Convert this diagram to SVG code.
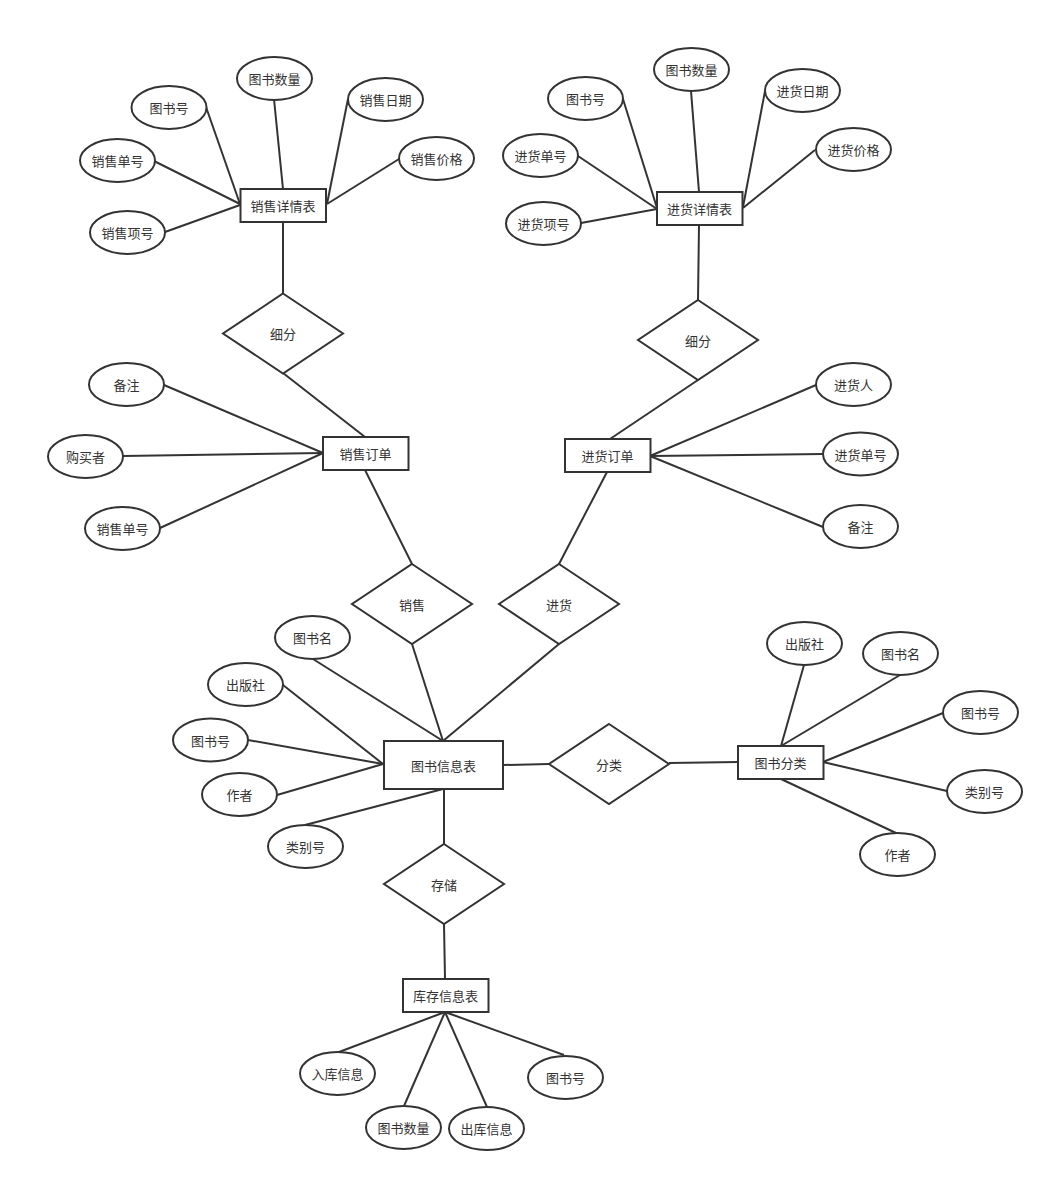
<svg xmlns="http://www.w3.org/2000/svg" width="1053" height="1182" viewBox="0 0 1053 1182">
<style>
.e{fill:#fff;stroke:#333;stroke-width:2}
.r{fill:#fff;stroke:#333;stroke-width:2}
.d{fill:#fff;stroke:#333;stroke-width:2}
.l{stroke:#333;stroke-width:2;fill:none}
text{font-family:"Noto Sans CJK SC","Noto Sans",sans-serif;font-size:13px;fill:#333;text-anchor:middle;dominant-baseline:central}
</style>
<rect width="1053" height="1182" fill="#fff"/>
<g id="connectors">
<line class="l" x1="206" y1="107" x2="240" y2="204"/>
<line class="l" x1="274" y1="99" x2="283" y2="189"/>
<line class="l" x1="348" y1="99" x2="327" y2="204"/>
<line class="l" x1="399" y1="159" x2="327" y2="204"/>
<line class="l" x1="154" y1="161" x2="240" y2="204"/>
<line class="l" x1="165" y1="232" x2="240" y2="205"/>
<line class="l" x1="283" y1="222" x2="283" y2="293"/>
<line class="l" x1="283" y1="373" x2="365" y2="437"/>
<line class="l" x1="164" y1="385" x2="323" y2="453"/>
<line class="l" x1="123" y1="456" x2="323" y2="453"/>
<line class="l" x1="160" y1="528" x2="323" y2="453"/>
<line class="l" x1="365" y1="470" x2="412" y2="564"/>
<line class="l" x1="623" y1="99" x2="657" y2="208"/>
<line class="l" x1="691" y1="91" x2="699" y2="192"/>
<line class="l" x1="765" y1="91" x2="743" y2="207"/>
<line class="l" x1="815" y1="150" x2="743" y2="208"/>
<line class="l" x1="578" y1="156" x2="657" y2="209"/>
<line class="l" x1="581" y1="223" x2="657" y2="209"/>
<line class="l" x1="699" y1="225" x2="698" y2="300"/>
<line class="l" x1="698" y1="380" x2="610" y2="439"/>
<line class="l" x1="816" y1="385" x2="650" y2="456"/>
<line class="l" x1="823" y1="454" x2="650" y2="456"/>
<line class="l" x1="823" y1="527" x2="650" y2="456"/>
<line class="l" x1="607" y1="472" x2="559" y2="564"/>
<line class="l" x1="412" y1="644" x2="443" y2="741"/>
<line class="l" x1="559" y1="644" x2="443" y2="741"/>
<line class="l" x1="313" y1="659" x2="443" y2="741"/>
<line class="l" x1="283" y1="685" x2="383" y2="764"/>
<line class="l" x1="248" y1="740" x2="383" y2="764"/>
<line class="l" x1="277" y1="795" x2="383" y2="764"/>
<line class="l" x1="305" y1="825" x2="443" y2="789"/>
<line class="l" x1="503" y1="765" x2="549" y2="764"/>
<line class="l" x1="444" y1="789" x2="444" y2="844"/>
<line class="l" x1="669" y1="763" x2="738" y2="762"/>
<line class="l" x1="804" y1="665" x2="781" y2="746"/>
<line class="l" x1="900" y1="675" x2="781" y2="746"/>
<line class="l" x1="943" y1="713" x2="823" y2="762"/>
<line class="l" x1="947" y1="791" x2="823" y2="762"/>
<line class="l" x1="896" y1="833" x2="781" y2="779"/>
<line class="l" x1="444" y1="924" x2="445" y2="979"/>
<line class="l" x1="445" y1="1012" x2="339" y2="1052"/>
<line class="l" x1="445" y1="1012" x2="404" y2="1106"/>
<line class="l" x1="445" y1="1012" x2="487" y2="1107"/>
<line class="l" x1="445" y1="1012" x2="564" y2="1055"/>
</g>
<g id="sales-detail"><rect class="r" x="240.500" y="189" width="85.500" height="33"/><text x="283" y="205.500">销售详情表</text></g>
<g id="sd-bookno"><ellipse class="e" cx="169" cy="107.500" rx="37.500" ry="21.500"/><text x="169" y="107.500">图书号</text></g>
<g id="sd-qty"><ellipse class="e" cx="274.500" cy="78.500" rx="37.500" ry="21.500"/><text x="274.500" y="78.500">图书数量</text></g>
<g id="sd-date"><ellipse class="e" cx="385.500" cy="99.500" rx="37.500" ry="21.500"/><text x="385.500" y="99.500">销售日期</text></g>
<g id="sd-orderno"><ellipse class="e" cx="117.500" cy="160.500" rx="37.500" ry="21.500"/><text x="117.500" y="160.500">销售单号</text></g>
<g id="sd-price"><ellipse class="e" cx="436.500" cy="158.500" rx="37.500" ry="21.500"/><text x="436.500" y="158.500">销售价格</text></g>
<g id="sd-itemno"><ellipse class="e" cx="127.500" cy="232.500" rx="37.500" ry="21.500"/><text x="127.500" y="232.500">销售项号</text></g>
<g id="rel-detail-left"><polygon class="d" points="283,293.500 343,333.500 283,373.500 223,333.500"/><text x="283" y="333.500">细分</text></g>
<g id="sales-order"><rect class="r" x="323" y="437" width="85.500" height="33"/><text x="365.500" y="453.500">销售订单</text></g>
<g id="so-note"><ellipse class="e" cx="126.500" cy="384.500" rx="37.500" ry="21.500"/><text x="126.500" y="384.500">备注</text></g>
<g id="so-buyer"><ellipse class="e" cx="85.500" cy="456.500" rx="37.500" ry="21.500"/><text x="85.500" y="456.500">购买者</text></g>
<g id="so-orderno"><ellipse class="e" cx="122.500" cy="528.500" rx="37.500" ry="21.500"/><text x="122.500" y="528.500">销售单号</text></g>
<g id="purchase-detail"><rect class="r" x="657" y="192" width="85.500" height="33"/><text x="699.500" y="208.500">进货详情表</text></g>
<g id="pd-bookno"><ellipse class="e" cx="585.500" cy="98.500" rx="37.500" ry="21.500"/><text x="585.500" y="98.500">图书号</text></g>
<g id="pd-qty"><ellipse class="e" cx="691.500" cy="69.500" rx="37.500" ry="21.500"/><text x="691.500" y="69.500">图书数量</text></g>
<g id="pd-date"><ellipse class="e" cx="802.500" cy="90.500" rx="37.500" ry="21.500"/><text x="802.500" y="90.500">进货日期</text></g>
<g id="pd-orderno"><ellipse class="e" cx="540.500" cy="155.500" rx="37.500" ry="21.500"/><text x="540.500" y="155.500">进货单号</text></g>
<g id="pd-price"><ellipse class="e" cx="853.500" cy="149.500" rx="37.500" ry="21.500"/><text x="853.500" y="149.500">进货价格</text></g>
<g id="pd-itemno"><ellipse class="e" cx="543.500" cy="223.500" rx="37.500" ry="21.500"/><text x="543.500" y="223.500">进货项号</text></g>
<g id="rel-detail-right"><polygon class="d" points="698,300 758,340 698,380 638,340"/><text x="698" y="340">细分</text></g>
<g id="purchase-order"><rect class="r" x="565" y="439" width="85.500" height="33"/><text x="607.500" y="455.500">进货订单</text></g>
<g id="po-person"><ellipse class="e" cx="853.500" cy="384.500" rx="37.500" ry="21.500"/><text x="853.500" y="384.500">进货人</text></g>
<g id="po-orderno"><ellipse class="e" cx="860.500" cy="454" rx="37.500" ry="21.500"/><text x="860.500" y="454">进货单号</text></g>
<g id="po-note"><ellipse class="e" cx="860.500" cy="526.500" rx="37.500" ry="21.500"/><text x="860.500" y="526.500">备注</text></g>
<g id="rel-sale"><polygon class="d" points="412,564 472,604 412,644 352,604"/><text x="412" y="604">销售</text></g>
<g id="rel-purchase"><polygon class="d" points="559,564 619,604 559,644 499,604"/><text x="559" y="604">进货</text></g>
<g id="book-info"><rect class="r" x="384" y="741" width="119" height="48"/><text x="443.500" y="765">图书信息表</text></g>
<g id="bi-name"><ellipse class="e" cx="312.500" cy="637.500" rx="37.500" ry="21.500"/><text x="312.500" y="637.500">图书名</text></g>
<g id="bi-publisher"><ellipse class="e" cx="245.500" cy="684.500" rx="37.500" ry="21.500"/><text x="245.500" y="684.500">出版社</text></g>
<g id="bi-bookno"><ellipse class="e" cx="210.500" cy="740" rx="37.500" ry="21.500"/><text x="210.500" y="740">图书号</text></g>
<g id="bi-author"><ellipse class="e" cx="239.500" cy="794.500" rx="37.500" ry="21.500"/><text x="239.500" y="794.500">作者</text></g>
<g id="bi-catno"><ellipse class="e" cx="305.500" cy="846.500" rx="37.500" ry="21.500"/><text x="305.500" y="846.500">类别号</text></g>
<g id="rel-classify"><polygon class="d" points="609,724 669,764 609,804 549,764"/><text x="609" y="764">分类</text></g>
<g id="book-category"><rect class="r" x="738" y="746" width="85.500" height="33"/><text x="780.500" y="762.500">图书分类</text></g>
<g id="bc-publisher"><ellipse class="e" cx="804.500" cy="643.500" rx="37.500" ry="21.500"/><text x="804.500" y="643.500">出版社</text></g>
<g id="bc-name"><ellipse class="e" cx="900.500" cy="653.500" rx="37.500" ry="21.500"/><text x="900.500" y="653.500">图书名</text></g>
<g id="bc-bookno"><ellipse class="e" cx="980.500" cy="712.500" rx="37.500" ry="21.500"/><text x="980.500" y="712.500">图书号</text></g>
<g id="bc-catno"><ellipse class="e" cx="984.500" cy="791.500" rx="37.500" ry="21.500"/><text x="984.500" y="791.500">类别号</text></g>
<g id="bc-author"><ellipse class="e" cx="897.500" cy="854.500" rx="37.500" ry="21.500"/><text x="897.500" y="854.500">作者</text></g>
<g id="rel-store"><polygon class="d" points="444,844 504,884 444,924 384,884"/><text x="444" y="884">存储</text></g>
<g id="stock-info"><rect class="r" x="403" y="979" width="85.500" height="33"/><text x="445.500" y="995.500">库存信息表</text></g>
<g id="si-in"><ellipse class="e" cx="337.500" cy="1073.500" rx="37.500" ry="21.500"/><text x="337.500" y="1073.500">入库信息</text></g>
<g id="si-qty"><ellipse class="e" cx="403.500" cy="1127.500" rx="37.500" ry="21.500"/><text x="403.500" y="1127.500">图书数量</text></g>
<g id="si-out"><ellipse class="e" cx="486.500" cy="1128.500" rx="37.500" ry="21.500"/><text x="486.500" y="1128.500">出库信息</text></g>
<g id="si-bookno"><ellipse class="e" cx="565.500" cy="1077.500" rx="37.500" ry="21.500"/><text x="565.500" y="1077.500">图书号</text></g>
</svg>
